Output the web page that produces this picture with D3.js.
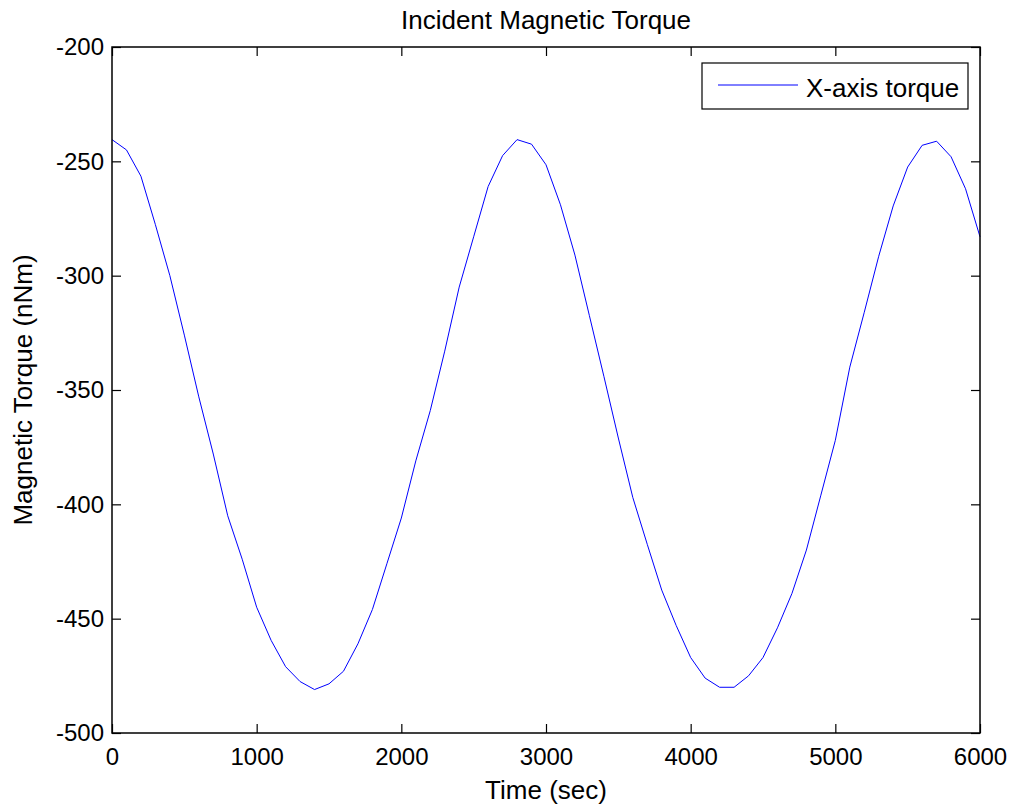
<!DOCTYPE html>
<html>
<head>
<meta charset="utf-8">
<script src="https://cdn.jsdelivr.net/npm/d3@7"></script>
<style>
  body { margin: 0; background: #fff; }
  svg text { font-family: "Liberation Sans", Arial, sans-serif; fill: #000; }
</style>
</head>
<body>
<div id="chart"></div>
<script>
// time in seconds, torque in nNm
const timeSec = [
    0, 100, 200, 300, 400, 500, 600, 700, 800, 900,
    1000, 1100, 1200, 1300, 1400, 1500, 1600, 1700, 1800, 1900,
    2000, 2100, 2200, 2300, 2400, 2500, 2600, 2700, 2800, 2900,
    3000, 3100, 3200, 3300, 3400, 3500, 3600, 3700, 3800, 3900,
    4000, 4100, 4200, 4300, 4400, 4500, 4600, 4700, 4800, 4900,
    5000, 5100, 5200, 5300, 5400, 5500, 5600, 5700, 5800, 5900, 6000
];
const xTorque = [
    -240.5, -245, -256.5, -277.7, -300, -326, -353, -378, -405, -424,
    -445, -459.5, -471, -477.5, -481, -478.5, -473, -461, -446, -426,
    -406, -381, -359, -333, -305, -283, -261, -247.5, -240.5, -242.5,
    -251.5, -269, -291, -317.5, -344, -371, -397, -417.5, -437.5, -453,
    -467, -476, -480, -480, -475, -467, -454, -439, -420, -396,
    -372, -340, -316, -291.5, -269.5, -252.5, -243, -241.2, -248, -262, -283
];
const xTicks = [0, 1000, 2000, 3000, 4000, 5000, 6000];
const yTicks = [-500, -450, -400, -350, -300, -250, -200];
const seriesName = 'X-axis torque';

const width = 1013, height = 807;
const margin = { top: 47, right: 33, bottom: 74, left: 112 };
const w = width - margin.left - margin.right;
const h = height - margin.top - margin.bottom;

const svg = d3.select('#chart').append('svg')
    .attr('width', width)
    .attr('height', height);

const plot = svg.append('g')
    .attr('transform', `translate(${margin.left},${margin.top})`);

const xScale = d3.scaleLinear().domain([0, 6000]).range([0, w]);
const yScale = d3.scaleLinear().domain([-500, -200]).range([h, 0]);

const data = timeSec.map((t, i) => ({ t: t, v: xTorque[i] }));

const line = d3.line()
    .x(d => xScale(d.t))
    .y(d => yScale(d.v));

plot.append('path')
    .datum(data)
    .attr('fill', 'none')
    .attr('stroke', '#0000ff')
    .attr('stroke-width', 1)
    .attr('d', line);

// matlab style box with inward ticks on every side
const tickLen = 9;
const tickFont = 24;
const labelFont = 26;
const plain = d => String(d);   // matlab: no thousands separator, ascii hyphen

const bottomAxis = d3.axisBottom(xScale).tickValues(xTicks).tickSize(-tickLen).tickPadding(15).tickFormat(plain);
const topAxis = d3.axisTop(xScale).tickValues(xTicks).tickSize(-tickLen).tickFormat('');
const leftAxis = d3.axisLeft(yScale).tickValues(yTicks).tickSize(-tickLen).tickPadding(8).tickFormat(plain);
const rightAxis = d3.axisRight(yScale).tickValues(yTicks).tickSize(-tickLen).tickFormat('');

const styleAxis = g => {
    g.select('.domain').remove();
    g.selectAll('line').attr('stroke', '#000').attr('stroke-width', 1.2);
    g.selectAll('text').style('font-size', tickFont + 'px').attr('fill', '#000');
};

plot.append('g').attr('transform', `translate(0,${h})`).call(bottomAxis).call(styleAxis);
plot.append('g').call(topAxis).call(styleAxis);
plot.append('g').call(leftAxis).call(styleAxis);
plot.append('g').attr('transform', `translate(${w},0)`).call(rightAxis).call(styleAxis);

plot.append('rect')
    .attr('width', w)
    .attr('height', h)
    .attr('fill', 'none')
    .attr('stroke', '#000')
    .attr('stroke-width', 1.5);

// titles
svg.append('text')
    .attr('x', margin.left + w / 2)
    .attr('y', 29)
    .attr('text-anchor', 'middle')
    .style('font-size', labelFont + 'px')
    .text('Incident Magnetic Torque');

svg.append('text')
    .attr('x', margin.left + w / 2)
    .attr('y', 799)
    .attr('text-anchor', 'middle')
    .style('font-size', labelFont + 'px')
    .text('Time (sec)');

svg.append('text')
    .attr('transform', `translate(32,${margin.top + h / 2}) rotate(-90)`)
    .attr('text-anchor', 'middle')
    .style('font-size', labelFont + 'px')
    .text('Magnetic Torque (nNm)');

// legend
const legend = svg.append('g').attr('transform', 'translate(702,63)');
legend.append('rect')
    .attr('width', 266)
    .attr('height', 46)
    .attr('fill', '#fff')
    .attr('stroke', '#000')
    .attr('stroke-width', 1.2);
legend.append('line')
    .attr('x1', 16).attr('x2', 96)
    .attr('y1', 22).attr('y2', 22)
    .attr('stroke', '#0000ff')
    .attr('stroke-width', 1);
legend.append('text')
    .attr('x', 104)
    .attr('y', 34)
    .style('font-size', labelFont + 'px')
    .text(seriesName);
</script>
</body>
</html>
